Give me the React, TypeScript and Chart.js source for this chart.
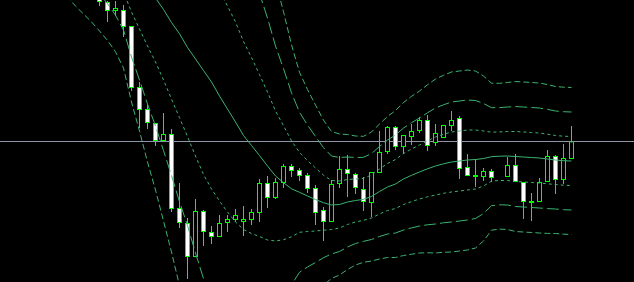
import { useEffect, useRef } from 'react';
import { Chart, registerables } from 'chart.js';

Chart.register(...registerables);

// Bar index 0 is the first candle; bars 0..59, bar 50 has no quote.
const opens = [
  113.48, 113.40, 113.31, 113.32, 113.16, 112.55, 112.33, 112.19, 112.01, 112.08,
  111.34, 111.19, 110.85, 111.31, 111.10, 111.05, 111.19, 111.22, 111.20, 111.22,
  111.29, 111.59, 111.44, 111.59, 111.76, 111.72, 111.67, 111.54, 111.32, 111.20,
  111.58, 111.73, 111.68, 111.53, 111.39, 111.69, 111.90, 112.15, 111.95, 112.05,
  112.11, 112.22, 111.99, 112.04, 112.16, 112.24, 111.75, 111.65, 111.65, 111.71,
  null, 111.65, 111.77, 111.60, 111.39, 111.40, 111.60, 111.86, 111.62, 111.83,
];
const highs = [
  113.52, 113.41, 113.41, 113.37, 113.16, 112.60, 112.37, 112.19, 112.29, 112.13,
  111.59, 111.24, 111.43, 111.32, 111.16, 111.27, 111.27, 111.33, 111.36, 111.33,
  111.63, 111.66, 111.64, 111.78, 111.78, 111.74, 111.69, 111.57, 111.35, 111.62,
  111.86, 111.87, 111.69, 111.65, 111.70, 112.11, 112.16, 112.16, 112.07, 112.18,
  112.25, 112.27, 112.18, 112.17, 112.31, 112.26, 111.88, 111.83, 111.74, 111.73,
  null, 111.85, 111.88, 111.60, 111.49, 111.64, 111.92, 111.87, 111.98, 112.16,
];
const lows = [
  113.36, 113.20, 113.26, 113.05, 112.51, 112.14, 112.13, 111.96, 112.01, 111.30,
  111.14, 110.63, 110.85, 110.96, 110.98, 111.05, 111.10, 111.20, 111.06, 111.17,
  111.20, 111.34, 111.43, 111.54, 111.65, 111.61, 111.49, 111.17, 111.01, 111.20,
  111.54, 111.45, 111.48, 111.31, 111.25, 111.69, 111.88, 111.92, 111.88, 111.97,
  112.09, 111.91, 111.96, 112.04, 112.11, 111.63, 111.66, 111.55, 111.61, 111.60,
  null, 111.65, 111.60, 111.23, 111.21, 111.40, 111.60, 111.48, 111.58, 111.83,
];
const closes = [
  113.40, 113.31, 113.34, 113.15, 112.54, 112.32, 112.19, 112.01, 112.08, 111.33,
  111.19, 110.85, 111.31, 111.10, 111.05, 111.19, 111.23, 111.27, 111.23, 111.30,
  111.59, 111.44, 111.60, 111.76, 111.71, 111.66, 111.53, 111.29, 111.20, 111.58,
  111.73, 111.68, 111.54, 111.40, 111.70, 111.90, 112.15, 111.95, 112.07, 112.11,
  112.22, 111.96, 112.09, 112.17, 112.22, 111.73, 111.66, 111.67, 111.71, 111.64,
  null, 111.77, 111.60, 111.40, 111.41, 111.60, 111.86, 111.62, 111.84, 112.005,
];

// Bollinger(20) middle line and one standard deviation, from bar -5 to bar 59.
const BAND_START = -5;
const bandMid = [
  114.72, 114.62, 114.52, 114.42, 114.32,
  114.22, 114.12, 114.00, 113.88, 113.75, 113.64, 113.54, 113.44, 113.325, 113.195,
  113.083, 112.945, 112.83, 112.715, 112.60, 112.46, 112.33, 112.20, 112.065, 111.965,
  111.865, 111.76, 111.66, 111.593, 111.532, 111.497, 111.46, 111.425, 111.393, 111.37,
  111.375, 111.40, 111.415, 111.427, 111.455, 111.505, 111.55, 111.58, 111.63, 111.667,
  111.70, 111.732, 111.76, 111.782, 111.80, 111.81, 111.82, 111.825, 111.835, 111.853,
  111.858, 111.86, 111.855, 111.85, 111.845, 111.84, 111.83, 111.82, 111.813, 111.81,
];
const bandDev = [
  0.40, 0.39, 0.387, 0.38, 0.373,
  0.37, 0.368, 0.366, 0.38, 0.45, 0.51, 0.58, 0.64, 0.705, 0.765,
  0.84, 0.89, 0.97, 1.04, 1.07, 1.05, 1.03, 1.00, 0.94, 0.88,
  0.81, 0.74, 0.65, 0.57, 0.48, 0.40, 0.355, 0.315, 0.275, 0.245,
  0.235, 0.225, 0.215, 0.21, 0.215, 0.225, 0.235, 0.245, 0.255, 0.263,
  0.27, 0.28, 0.29, 0.295, 0.30, 0.30, 0.30, 0.295, 0.275, 0.245,
  0.243, 0.245, 0.25, 0.25, 0.25, 0.25, 0.248, 0.245, 0.245, 0.245,
];

const BAND_STEPS = [3, 2, 1, 0, -1, -2, -3];
const BAND_DASH: Record<number, number[]> = {
  3: [6, 3],
  2: [12, 4],
  1: [3, 3],
  0: [],
  [-1]: [3, 3],
  [-2]: [12, 4],
  [-3]: [6, 3],
};

const CANDLE = '#00ff00';
const BAND = '#3cb371';
const BID = '#8c96a5';
const X_MIN = -12.4375;
const X_MAX = 66.8125;
const Y_MIN = 110.6;
const Y_MAX = 113.42;

export default function App() {
  const ref = useRef<HTMLCanvasElement | null>(null);

  useEffect(() => {
    document.body.style.margin = '0';
    document.body.style.background = '#000';
    const canvas = ref.current;
    if (!canvas) return;

    const bars = opens
      .map((o, i) => ({ i, o, h: highs[i], l: lows[i], c: closes[i] }))
      .filter((b) => b.o !== null);

    const wicks = bars.map((b) => ({ x: b.i, y: [b.l as number, b.h as number] }));
    const bodies = bars.map((b) => ({ x: b.i, y: [b.o as number, b.c as number] }));
    const bodyFill = bars.map((b) => ((b.c as number) < (b.o as number) ? '#ffffff' : '#000000'));

    const bandSets = BAND_STEPS.map((k) => ({
      type: 'line' as const,
      data: bandMid.map((m, j) => ({ x: BAND_START + j, y: m + k * bandDev[j] })),
      borderColor: BAND,
      borderWidth: 1,
      borderDash: BAND_DASH[k],
      pointRadius: 0,
      tension: 0,
      fill: false,
      order: 0,
    }));

    const last = closes[closes.length - 1] as number;

    const chart = new Chart(canvas, {
      type: 'bar',
      data: {
        datasets: [
          ...bandSets,
          {
            type: 'bar',
            data: bodies as any,
            backgroundColor: bodyFill,
            borderColor: CANDLE,
            borderWidth: 1,
            borderSkipped: false,
            inflateAmount: 0,
            barThickness: 5,
            grouped: false,
            order: 1,
          } as any,
          {
            type: 'bar',
            data: wicks as any,
            backgroundColor: CANDLE,
            borderWidth: 0,
            inflateAmount: 0,
            barThickness: 1,
            grouped: false,
            order: 2,
          } as any,
          {
            type: 'line',
            data: [
              { x: X_MIN, y: last },
              { x: X_MAX, y: last },
            ],
            borderColor: BID,
            borderWidth: 1,
            pointRadius: 0,
            order: 3,
          },
        ],
      },
      options: {
        animation: false,
        responsive: false,
        devicePixelRatio: 1,
        layout: { padding: 0 },
        plugins: { legend: { display: false }, tooltip: { enabled: false } },
        scales: {
          x: { type: 'linear', min: X_MIN, max: X_MAX, display: false, offset: false },
          y: { type: 'linear', min: Y_MIN, max: Y_MAX, display: false },
        },
      },
    });
    return () => chart.destroy();
  }, []);

  return (
    <div style={{ width: 634, height: 282, background: '#000' }}>
      <canvas ref={ref} width={634} height={282} style={{ display: 'block' }} />
    </div>
  );
}
